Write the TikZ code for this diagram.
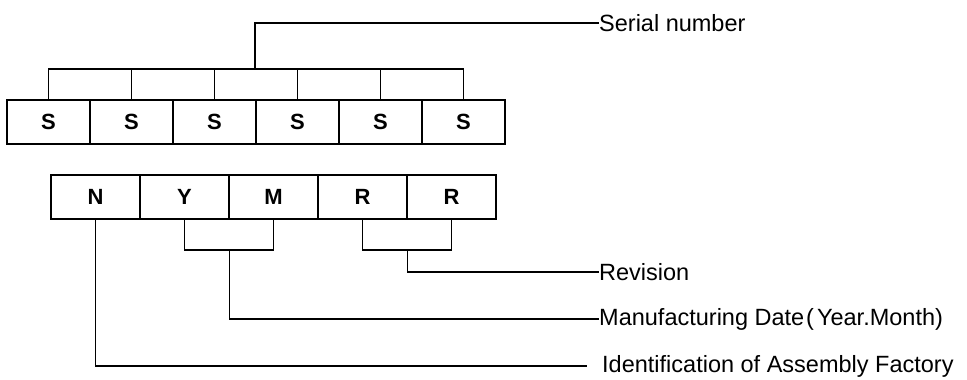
\documentclass[tikz,border=0pt]{standalone}
\usepackage{fontspec}
\setmainfont{Liberation Sans}
\begin{document}
\begin{tikzpicture}[x=1pt,y=-1pt,
  cell/.style={draw,line width=1.6pt,minimum height=44pt,inner sep=0pt,font=\fontsize{22}{24}\selectfont\bfseries},
  scell/.style={cell,minimum width=83pt},
  bcell/.style={cell,minimum width=89pt},
  lbl/.style={anchor=west,inner sep=0pt,font=\fontsize{23.5}{25}\selectfont},
  wire/.style={line width=1.6pt}]
\useasboundingbox (0,0) rectangle (967,380);
% top row
\foreach \i/\x in {1/48.5,2/131.5,3/214.5,4/297.5,5/380.5,6/463.5}
  \node[scell] (s\i) at (\x,122) {S};
% bottom row
\node[bcell] (n)  at (95.5,197) {N};
\node[bcell] (y)  at (184.5,197) {Y};
\node[bcell] (m)  at (273.5,197) {M};
\node[bcell] (r1) at (362.5,197) {R};
\node[bcell] (r2) at (451.5,197) {R};
% labels
\node[lbl] (serial) at (599,23) {Serial number};
\node[lbl] (rev) at (599,272) {Revision};
\node[lbl] (mfg) at (599,319) {Manufacturing Date\hspace{2pt}(\hspace{3pt}Year.Month)};
\node[lbl] (ident) at (602,366) {Identification of Assembly Factory};
% coordinates
\coordinate (comb) at (0,69);
\coordinate (snstem) at (255,69);
\coordinate (ymb) at (0,250);
\coordinate (ymstem) at (229.5,250);
\coordinate (rrstem) at (407.5,250);
% serial comb
\draw[wire] (s1.north) -- (s1.north |- comb) -- (s6.north |- comb) -- (s6.north);
\foreach \i in {2,...,5} \draw[wire] (s\i.north) -- (s\i.north |- comb);
\draw[wire] (snstem) |- (serial.west);
% YM bracket
\draw[wire] (y.south) -- (y.south |- ymb) -- (m.south |- ymb) -- (m.south);
\draw[wire] (ymstem) |- (mfg.west);
% RR bracket
\draw[wire] (r1.south) -- (r1.south |- ymb) -- (r2.south |- ymb) -- (r2.south);
\draw[wire] (rrstem) |- (rev.west);
% N
\draw[wire,shorten >=15pt] (n.south) |- (ident.west);
\end{tikzpicture}
\end{document}
